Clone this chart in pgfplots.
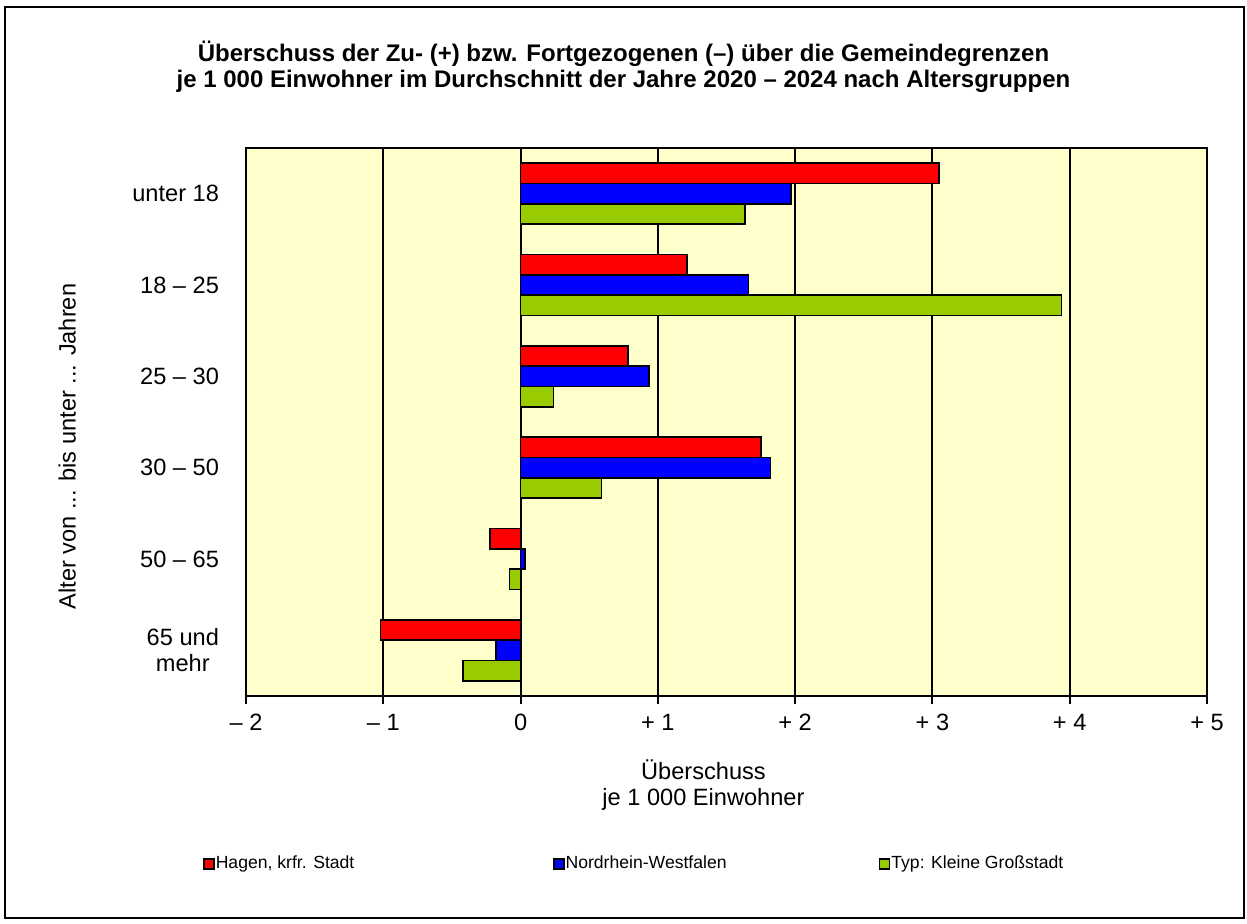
\documentclass[border=0pt]{standalone}
\usepackage{pgfplots}
\pgfplotsset{compat=1.18}
\usepackage{fontspec}
\setmainfont{Liberation Sans}
\definecolor{bgY}{HTML}{FFFFCC}
\definecolor{cR}{HTML}{FF0000}
\definecolor{cB}{HTML}{0000FF}
\definecolor{cG}{HTML}{99CC00}
\pgfplotsset{sqlegend/.style={legend image code/.code={\draw[##1] (0pt,-2.5pt) rectangle (5pt,2.5pt);}}}
\begin{document}
\begin{tikzpicture}
\path[use as bounding box] (-123pt,-114pt) rectangle (500.5pt,348pt);
\draw[line width=1pt] (-120.5pt,-111pt) rectangle (499pt,344.5pt);
\begin{axis}[
  at={(0pt,0pt)}, anchor=south west,
  scale only axis, width=480.5pt, height=274pt,
  xbar, bar width=10.15pt,
  xmin=-2, xmax=5, ymin=-0.5, ymax=5.5,
  axis background/.style={fill=bgY},
  axis line style={line width=1pt, black},
  xtick={-2,-1,0,1,2,3,4,5},
  xticklabels={– 2,– 1,0,+ 1,+ 2,+ 3,+ 4,+ 5},
  xmajorgrids, grid style={black, line width=1pt},
  ytick={0,1,2,3,4,5},
  yticklabels={{65 und\\mehr},{50 – 65},{30 – 50},{25 – 30},{18 – 25},{unter 18}},
  xtick pos=bottom, ytick pos=left,
  tick align=outside, major tick length=4pt,
  xtick style={black, line width=1pt},
  ytick style={draw=none},
  xticklabel style={font=\fontsize{11.8}{13}\selectfont, yshift=-1.5pt},
  yticklabel style={font=\fontsize{11.8}{13}\selectfont, align=center, xshift=-6pt},
  ylabel={Alter von ... bis unter ... Jahren},
  ylabel style={at={(axis description cs:-0.186,0.455)}, anchor=center, font=\fontsize{11.8}{13}\selectfont},
  legend columns=3,
  legend cell align=left,
  legend style={at={(axis description cs:-0.04475,-0.3066)}, anchor=west, draw=none, fill=none,
    inner sep=0pt, outer sep=0pt, font=\fontsize{8.8}{10}\selectfont,
    nodes={inner sep=0.5pt},
    /tikz/every even column/.append style={column sep=0pt}},
]
\addplot[fill=cR, draw=black, line width=0.9pt, bar shift=10.15pt, sqlegend]
  coordinates {(3.05,5) (1.21,4) (0.78,3) (1.75,2) (-0.22,1) (-1.02,0)};
\addlegendentry{\makebox[168pt][l]{Hagen, krfr. Stadt}}
\addplot[fill=cB, draw=black, line width=0.9pt, bar shift=0pt, sqlegend]
  coordinates {(1.97,5) (1.66,4) (0.935,3) (1.82,2) (0.03,1) (-0.18,0)};
\addlegendentry{\makebox[156pt][l]{Nordrhein-Westfalen}}
\addplot[fill=cG, draw=black, line width=0.9pt, bar shift=-10.15pt, sqlegend]
  coordinates {(1.635,5) (3.94,4) (0.24,3) (0.59,2) (-0.08,1) (-0.42,0)};
\addlegendentry{Typ: Kleine Großstadt}
\end{axis}
\node[font=\fontsize{12}{13}\selectfont\bfseries, anchor=base] at (188.75pt,317pt) {Überschuss der Zu- (+) bzw. Fortgezogenen (–) über die Gemeindegrenzen};
\node[font=\fontsize{12}{13}\selectfont\bfseries, anchor=base] at (188.75pt,304pt) {je 1 000 Einwohner im Durchschnitt der Jahre 2020 – 2024 nach Altersgruppen};
\node[font=\fontsize{11.8}{13}\selectfont, anchor=base] at (228.75pt,-42pt) {Überschuss};
\node[font=\fontsize{11.8}{13}\selectfont, anchor=base] at (228.75pt,-55pt) {je 1 000 Einwohner};
\end{tikzpicture}
\end{document}
